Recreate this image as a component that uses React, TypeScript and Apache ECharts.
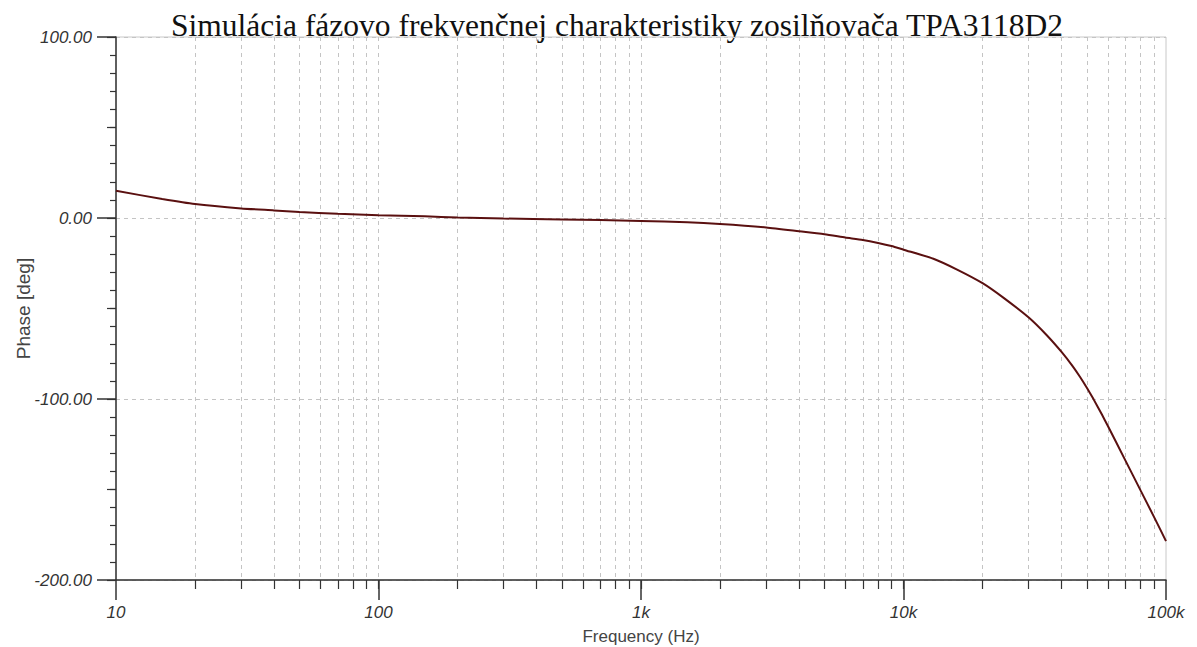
import React, { useEffect, useRef } from "react";
import * as echarts from "echarts";

const TITLE = "Simulácia fázovo frekvenčnej charakteristiky zosilňovača TPA3118D2";
const X_NAME = "Frequency (Hz)";
const Y_NAME = "Phase [deg]";

const freqHz = [
  10, 15, 20, 30, 40, 50, 70, 100, 150, 200, 300, 500, 700, 1000, 1500, 2000,
  3000, 4000, 5000, 6000, 7000, 8000, 9000, 10000, 13000, 16000, 20000, 24000,
  30000, 35000, 40000, 44000, 47000, 50000, 53000, 57000, 60000, 70000, 80000,
  90000, 100000,
];
const phaseDeg = [
  15, 10.5, 7.7, 5.3, 4.2, 3.3, 2.3, 1.5, 0.9, 0.3, -0.3, -0.8, -1.1, -1.6, -2.4,
  -3.3, -5.2, -7.3, -9, -10.8, -12.2, -13.8, -15.5, -17.5, -22.5, -28.5, -36,
  -44, -55, -64.5, -74, -81.7, -87.7, -93.9, -100.2, -108.6, -114.8, -133.9,
  -150.5, -165.1, -178.5,
];

const majorTicks = [10, 100, 1000, 10000, 100000];
const majorLabels = ["10", "100", "1k", "10k", "100k"];
const minorTicks = [
  20, 30, 40, 50, 60, 70, 80, 90, 100, 200, 300, 400, 500, 600, 700, 800, 900,
  1000, 2000, 3000, 4000, 5000, 6000, 7000, 8000, 9000, 10000, 20000, 30000,
  40000, 50000, 60000, 70000, 80000, 90000,
];

export default function App() {
  const ref = useRef<HTMLDivElement>(null);
  useEffect(() => {
    if (!ref.current) return;
    const chart = echarts.init(ref.current, undefined, { renderer: "svg" });
    const axisColor = "#333";
    const gridDash = { color: "#c4c4c4", width: 1, type: [4, 4] as any };
    const labelFont = { fontFamily: "Liberation Sans, Arial, sans-serif", fontStyle: "italic" as const, fontSize: 17, color: "#333" };
    chart.setOption({
      animation: false,
      backgroundColor: "#fff",
      graphic: [
        {
          type: "text",
          x: 617,
          y: 9,
          style: {
            text: TITLE,
            fontFamily: "Liberation Serif, serif",
            fontSize: 31.5,
            fill: "#111",
            textAlign: "center",
            textVerticalAlign: "top",
          },
        },
      ],
      grid: {
        left: 116,
        right: 31,
        top: 37,
        bottom: 67,
        show: true,
        borderColor: "#c8c8c8",
        borderWidth: 1,
        containLabel: false,
        outerBoundsMode: "none",
      },
      xAxis: [
        {
          type: "log",
          logBase: 10,
          min: 10,
          max: 100000,
          name: X_NAME,
          nameLocation: "middle",
          nameGap: 48,
          nameMoveOverlap: false,
          nameTextStyle: { fontFamily: "Liberation Sans, Arial, sans-serif", fontSize: 17, color: "#444" },
          axisLine: { show: true, onZero: false, lineStyle: { color: axisColor, width: 1.5 } },
          axisTick: { show: true, length: 20, customValues: majorTicks, lineStyle: { color: axisColor, width: 1.5 } },
          axisLabel: {
            ...labelFont,
            margin: 24,
            customValues: majorTicks,
            formatter: (v: number) => {
              const i = majorTicks.findIndex((t) => Math.abs(t - v) / t < 1e-6);
              return i >= 0 ? majorLabels[i] : "";
            },
          },
          splitLine: { show: false },
        },
        {
          type: "log",
          logBase: 10,
          min: 10,
          max: 100000,
          position: "bottom",
          axisLine: { show: false, onZero: false },
          axisTick: { show: true, length: 9, customValues: minorTicks, lineStyle: { color: axisColor, width: 1.2 } },
          axisLabel: { show: false },
          splitLine: { show: true, lineStyle: gridDash },
        },
      ],
      yAxis: [
        {
          type: "value",
          min: -200,
          max: 100,
          interval: 100,
          name: Y_NAME,
          nameLocation: "middle",
          nameGap: 83,
          nameMoveOverlap: false,
          nameRotate: 90,
          nameTextStyle: { fontFamily: "Liberation Sans, Arial, sans-serif", fontSize: 19, color: "#444" },
          axisLine: { show: true, onZero: false, lineStyle: { color: axisColor, width: 1.5 } },
          axisTick: { show: true, length: 19, lineStyle: { color: axisColor, width: 1.5 } },
          minorTick: { show: true, splitNumber: 10, length: 6, lineStyle: { color: axisColor, width: 1.2 } },
          axisLabel: { ...labelFont, margin: 24, formatter: (v: number) => v.toFixed(2) },
          splitLine: { show: true, lineStyle: gridDash },
        },
        {
          type: "value",
          min: -200,
          max: 100,
          interval: 50,
          position: "left",
          offset: 0,
          axisLine: { show: false, onZero: false },
          axisTick: { show: true, length: 9, lineStyle: { color: axisColor, width: 1.2 } },
          axisLabel: { show: false },
          splitLine: { show: false },
        },
      ],
      series: [
        {
          type: "line",
          xAxisIndex: 0,
          yAxisIndex: 0,
          data: freqHz.map((f, i) => [f, phaseDeg[i]]),
          showSymbol: false,
          smooth: 0.2,
          lineStyle: { color: "#5a1010", width: 2 },
          itemStyle: { color: "#5a1010" },
        },
      ],
    });
    return () => chart.dispose();
  }, []);
  return (
    <div
      ref={ref}
      style={{ position: "fixed", left: 0, top: 0, width: 1197, height: 647, background: "#fff" }}
    />
  );
}
